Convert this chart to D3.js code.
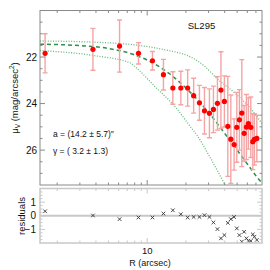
<!DOCTYPE html>
<html>
<head>
<meta charset="utf-8">
<script src="https://cdn.jsdelivr.net/npm/d3@7"></script>
<style>
  body { margin: 0; background: #fff; }
  svg { display: block; font-family: 'Liberation Sans', Arial, sans-serif; }
</style>
</head>
<body>
<svg id="chart" width="270" height="270"></svg>
<script>
// surface brightness profile (R in arcsec, mu in mag/arcsec^2)
const radius = [1.61, 3.79, 6.10, 8.56, 10.99, 13.38, 15.83, 18.26, 20.63, 22.96,
  25.47, 27.86, 30.46, 32.72, 35.15, 37.41, 39.8, 42.3, 44.66, 47.37,
  49.7, 52.07, 54.35, 56.64, 59.02, 61.16, 63.84, 66.2, 68.1, 71.1]
const mag = [21.84, 21.67, 21.53, 21.84, 22.16, 22.76, 23.33, 23.33, 23.33, 23.66,
  23.97, 24.31, 24.42, 24.25, 23.99, 23.42, 23.91, 24.98, 25.53, 25.76,
  25.02, 24.70, 24.41, 25.28, 25.01, 24.86, 25.02, 25.64, 25.54, 25.50]
const magErr = [0.84, 0.90, 1.12, 0.46, 0.40, 0.66, 0.70, 0.72, 0.78, 0.75,
  0.75, 1.00, 1.05, 1.00, 1.15, 1.65, 1.10, 2.15, 1.90, 1.10,
  1.50, 1.30, 2.30, 1.20, 1.40, 1.10, 1.30, 1.20, 1.10, 1.00]
const residual = [0.33, 0.02, -0.25, -0.13, -0.13, 0.16, 0.40, 0.11, -0.13, -0.09,
  -0.09, 0.04, -0.09, -0.49, -0.98, -1.66, -1.42, -0.52, -0.25, -0.09,
  -0.93, -1.42, -1.90, -1.18, -1.66, -1.85, -1.85, -1.37, -1.54, -1.78]

// fitted model and its envelope
const fitR = [1.47, 3, 5, 8, 10, 15, 20, 30, 40, 50, 60, 70, 80]
const fitMu = [21.45, 21.51, 21.63, 21.91, 22.13, 22.73, 23.33, 24.38, 25.28, 26.0, 26.6, 27.1, 27.5]
const upperR = [1.47, 3, 5, 8.07, 14, 21.6, 28, 34.8, 48.2, 65.0, 77.7, 80]
const upperMu = [21.31, 21.34, 21.39, 21.48, 21.7, 21.99, 22.4, 22.92, 23.56, 24.28, 24.85, 24.95]
const lowerR = [1.47, 4, 7.38, 8.07, 11.54, 16.5, 22.2, 24.3, 30, 40.3]
const lowerMu = [21.72, 21.95, 22.25, 22.42, 23.28, 24.14, 25.07, 25.35, 26.2, 27.5]

const title = 'SL295'
const fitText = ['a = (14.2 \u00b1 5.7)\u2033', '\u03b3 = ( 3.2 \u00b1 1.3)']

const color = {
  frame: '#8a8a8a',
  resFrame: '#c8c8c8',
  point: '#ff0000',
  errBar: '#f4a4a4',
  fit: '#2f8f4f',
  envelope: '#3aa85a',
  cross: '#333'
}

const svg = d3.select('#chart')
const pLeft = 40, pRight = 262, pTop = 10.5, pBottom = 185
const resTop = 188.5, resBottom = 243

const x = d3.scaleLog().domain([1.47, 78]).range([pLeft, pRight])
const y = d3.scaleLinear().domain([20, 27.5]).range([pTop, pBottom])
const yr = d3.scaleLinear().domain([-2, 2]).range([resBottom, resTop])

svg.append('clipPath').attr('id', 'clipMain')
  .append('rect').attr('x', pLeft).attr('y', pTop).attr('width', pRight - pLeft).attr('height', pBottom - pTop)
svg.append('clipPath').attr('id', 'clipRes')
  .append('rect').attr('x', pLeft).attr('y', resTop).attr('width', pRight - pLeft).attr('height', resBottom - resTop)

const xMinor = [2, 3, 4, 5, 6, 7, 8, 9, 20, 30, 40, 50, 60, 70]

// ---- main panel ----
const main = svg.append('g')
const plot = main.append('g').attr('clip-path', 'url(#clipMain)')

const line = d3.line().curve(d3.curveMonotoneX).x((d) => x(d[0])).y((d) => y(d[1]))

plot.append('path')
  .attr('d', line(d3.zip(upperR, upperMu)))
  .attr('fill', 'none').attr('stroke', color.envelope).attr('stroke-width', 1.3)
  .attr('stroke-dasharray', '1,1.6').attr('opacity', 0.8)
plot.append('path')
  .attr('d', line(d3.zip(lowerR, lowerMu)))
  .attr('fill', 'none').attr('stroke', color.envelope).attr('stroke-width', 1.3)
  .attr('stroke-dasharray', '1,1.6').attr('opacity', 0.8)
plot.append('path')
  .attr('d', line(d3.zip(fitR, fitMu)))
  .attr('fill', 'none').attr('stroke', color.fit).attr('stroke-width', 1.5)
  .attr('stroke-dasharray', '4,3')

const pts = radius.map((r, i) => ({ r, m: mag[i], e: magErr[i] }))

// error bars
const eb = plot.selectAll('.err').data(pts).enter().append('g').attr('class', 'err')
  .attr('stroke', color.errBar).attr('stroke-width', 1.4)
eb.append('line')
  .attr('x1', (d) => x(d.r)).attr('x2', (d) => x(d.r))
  .attr('y1', (d) => y(d.m - d.e)).attr('y2', (d) => y(d.m + d.e))
eb.append('line')
  .attr('x1', (d) => x(d.r) - 2.5).attr('x2', (d) => x(d.r) + 2.5)
  .attr('y1', (d) => y(d.m - d.e)).attr('y2', (d) => y(d.m - d.e))
eb.append('line')
  .attr('x1', (d) => x(d.r) - 2.5).attr('x2', (d) => x(d.r) + 2.5)
  .attr('y1', (d) => y(d.m + d.e)).attr('y2', (d) => y(d.m + d.e))

plot.selectAll('.pt').data(pts).enter().append('circle')
  .attr('class', 'pt')
  .attr('cx', (d) => x(d.r)).attr('cy', (d) => y(d.m))
  .attr('r', 2.6).attr('fill', color.point)

// frame + ticks
main.append('rect')
  .attr('x', pLeft).attr('y', pTop).attr('width', pRight - pLeft).attr('height', pBottom - pTop)
  .attr('fill', 'none').attr('stroke', color.frame).attr('stroke-width', 1)

const mainTicks = main.append('g').attr('stroke', color.frame).attr('stroke-width', 1)
d3.range(20.5, 27.5, 0.5).forEach((v) => {
  const len = v % 2 === 0 ? 5 : 2.5
  mainTicks.append('line').attr('x1', pLeft).attr('x2', pLeft + len).attr('y1', y(v)).attr('y2', y(v))
  mainTicks.append('line').attr('x1', pRight).attr('x2', pRight - len).attr('y1', y(v)).attr('y2', y(v))
})
xMinor.concat([10]).forEach((v) => {
  const len = v === 10 ? 5 : 2.5
  mainTicks.append('line').attr('x1', x(v)).attr('x2', x(v)).attr('y1', pBottom).attr('y2', pBottom - len)
  mainTicks.append('line').attr('x1', x(v)).attr('x2', x(v)).attr('y1', pTop).attr('y2', pTop + len)
})

main.selectAll('.ylab').data([22, 24, 26]).enter().append('text')
  .attr('x', 37).attr('y', (d) => y(d) + 3.6)
  .attr('text-anchor', 'end').attr('font-size', 10).attr('fill', '#111')
  .text((d) => d)

const ytitle = main.append('text')
  .attr('transform', 'translate(17.5,98) rotate(-90)')
  .attr('text-anchor', 'middle').attr('font-size', 9.5).attr('fill', '#111')
ytitle.append('tspan').text('\u03bc')
ytitle.append('tspan').attr('font-size', 6.5).attr('dy', 2).text('V')
ytitle.append('tspan').attr('dy', -2).text(' (mag/arcsec')
ytitle.append('tspan').attr('font-size', 6.5).attr('dy', -3.5).text('2')
ytitle.append('tspan').attr('dy', 3.5).text(')')

main.append('text')
  .attr('x', 201.5).attr('y', 28.5).attr('text-anchor', 'middle')
  .attr('font-size', 9.5).attr('fill', '#111').text(title)

main.selectAll('.fit').data(fitText).enter().append('text')
  .attr('x', 53).attr('y', (d, i) => 137 + i * 17)
  .attr('font-size', 8.5).attr('fill', '#111')
  .style('white-space', 'pre')
  .text((d) => d)

// ---- residual panel ----
const res = svg.append('g')
const resPlot = res.append('g').attr('clip-path', 'url(#clipRes)')

resPlot.append('line')
  .attr('x1', pLeft).attr('x2', pRight).attr('y1', yr(0)).attr('y2', yr(0))
  .attr('stroke', color.resFrame).attr('stroke-width', 2)

const cs = 1.8
const crosses = resPlot.selectAll('.cross').data(radius.map((r, i) => [r, residual[i]]))
  .enter().append('g').attr('class', 'cross')
  .attr('transform', (d) => 'translate(' + x(d[0]) + ',' + yr(d[1]) + ')')
  .attr('stroke', color.cross).attr('stroke-width', 0.9)
crosses.append('line').attr('x1', -cs).attr('y1', -cs).attr('x2', cs).attr('y2', cs)
crosses.append('line').attr('x1', -cs).attr('y1', cs).attr('x2', cs).attr('y2', -cs)

res.append('rect')
  .attr('x', pLeft).attr('y', resTop).attr('width', pRight - pLeft).attr('height', resBottom - resTop)
  .attr('fill', 'none').attr('stroke', color.resFrame).attr('stroke-width', 1.5)

const resTicks = res.append('g').attr('stroke', color.resFrame).attr('stroke-width', 1)
d3.range(-1.75, 2, 0.25).forEach((v) => {
  const len = Number.isInteger(v) ? 5 : 2.5
  resTicks.append('line').attr('x1', pLeft).attr('x2', pLeft + len).attr('y1', yr(v)).attr('y2', yr(v))
  resTicks.append('line').attr('x1', pRight).attr('x2', pRight - len).attr('y1', yr(v)).attr('y2', yr(v))
})
xMinor.concat([10]).forEach((v) => {
  const len = v === 10 ? 5 : 2.5
  resTicks.append('line').attr('x1', x(v)).attr('x2', x(v)).attr('y1', resBottom).attr('y2', resBottom - len)
  resTicks.append('line').attr('x1', x(v)).attr('x2', x(v)).attr('y1', resTop).attr('y2', resTop + len)
})

res.selectAll('.rlab').data([1, 0, -1]).enter().append('text')
  .attr('x', 36).attr('y', (d) => yr(d) + 3.6)
  .attr('text-anchor', 'end').attr('font-size', 10).attr('fill', '#111')
  .text((d) => (d < 0 ? '\u2212' + Math.abs(d) : d))

res.append('text')
  .attr('transform', 'translate(24.5,216) rotate(-90)')
  .attr('text-anchor', 'middle').attr('font-size', 9.5).attr('fill', '#111')
  .text('residuals')

// x axis labels
svg.append('text')
  .attr('x', x(10)).attr('y', 254).attr('text-anchor', 'middle')
  .attr('font-size', 9.5).attr('fill', '#111').text('10')
svg.append('text')
  .attr('x', 150).attr('y', 265.5).attr('text-anchor', 'middle')
  .attr('font-size', 9).attr('fill', '#111').text('R (arcsec)')
</script>
</body>
</html>
